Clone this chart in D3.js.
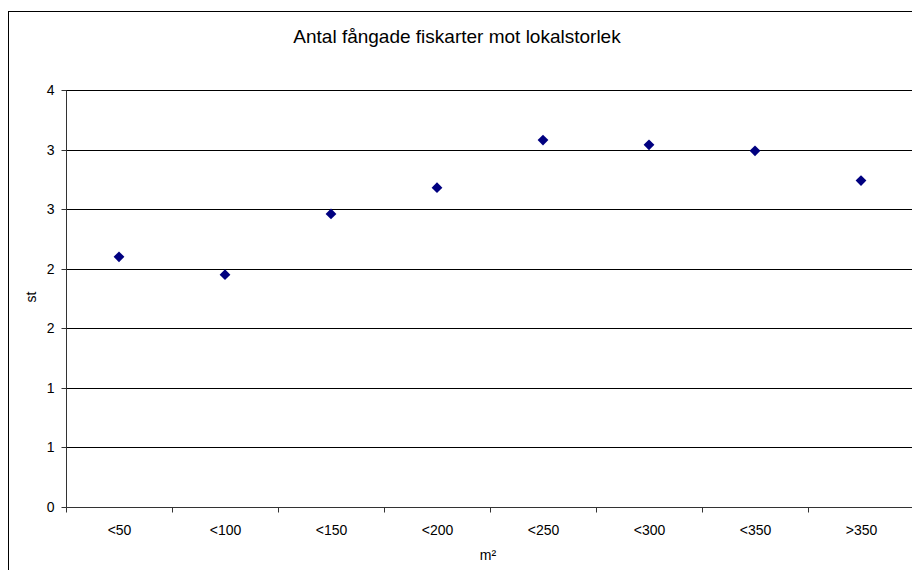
<!DOCTYPE html>
<html>
<head>
<meta charset="utf-8">
<script src="https://cdn.jsdelivr.net/npm/d3@7"></script>
<style>
  body { margin: 0; background: #fff; }
  svg { display: block; font-family: "Liberation Sans", Arial, sans-serif; }
</style>
</head>
<body>
<svg id="chart" width="912" height="570"></svg>
<script>
const categories = ['<50', '<100', '<150', '<200', '<250', '<300', '<350', '>350']
const values = [2.10, 1.95, 2.46, 2.68, 3.08, 3.04, 2.99, 2.74]
const yTicks = [0, 0.5, 1, 1.5, 2, 2.5, 3, 3.5]
const yTickLabels = ['0', '1', '1', '2', '2', '3', '3', '4']

const svg = d3.select('#chart')
const plotLeft = 66, plotRight = 914, plotTop = 90, plotBottom = 507

// chart frame
svg.append('rect')
  .attr('x', 8.5).attr('y', 11.5)
  .attr('width', 920).attr('height', 580)
  .attr('fill', '#fff')
  .attr('stroke', '#000')
  .attr('stroke-width', 1)

svg.append('text')
  .attr('x', 457).attr('y', 43)
  .attr('text-anchor', 'middle')
  .attr('font-size', 19)
  .text('Antal fångade fiskarter mot lokalstorlek')

let x = d3.scaleBand().domain(categories).range([plotLeft, plotRight])
let y = d3.scaleLinear().domain([0, 3.5]).range([plotBottom, plotTop])

// gridlines
svg.append('g').selectAll('line').data(yTicks.slice(1))
  .enter().append('line')
  .attr('x1', plotLeft).attr('x2', plotRight)
  .attr('y1', d => Math.round(y(d)) + 0.5)
  .attr('y2', d => Math.round(y(d)) + 0.5)
  .attr('stroke', '#000')

// y axis
let yAxis = svg.append('g').attr('transform', `translate(${plotLeft + 0.5},0.5)`)
yAxis.append('line').attr('y1', Math.round(plotTop)).attr('y2', plotBottom).attr('stroke', '#333')
yAxis.selectAll('g').data(yTicks).enter().append('g')
  .attr('transform', d => `translate(0,${Math.round(y(d))})`)
  .each(function (d, i) {
    let g = d3.select(this)
    g.append('line').attr('x1', -5).attr('x2', 0).attr('stroke', '#333')
    g.append('text')
      .attr('x', -12).attr('dy', '0.35em')
      .attr('text-anchor', 'end')
      .attr('font-size', 14)
      .text(yTickLabels[i])
  })

// x axis
let xAxis = svg.append('g').attr('transform', `translate(0.5,${plotBottom + 0.5})`)
xAxis.append('line').attr('x1', plotLeft).attr('x2', plotRight).attr('stroke', '#333')
xAxis.selectAll('line.tick').data(categories.concat(['end']))
  .enter().append('line')
  .attr('class', 'tick')
  .attr('x1', (d, i) => Math.round(plotLeft + i * x.bandwidth()))
  .attr('x2', (d, i) => Math.round(plotLeft + i * x.bandwidth()))
  .attr('y1', 0).attr('y2', 5)
  .attr('stroke', '#333')
xAxis.selectAll('text').data(categories)
  .enter().append('text')
  .attr('x', d => x(d) + x.bandwidth() / 2)
  .attr('y', 27)
  .attr('text-anchor', 'middle')
  .attr('font-size', 14)
  .text(d => d)

// axis titles
svg.append('text')
  .attr('transform', 'translate(36,297) rotate(-90)')
  .attr('text-anchor', 'middle')
  .attr('font-size', 14)
  .text('st')
svg.append('text')
  .attr('x', 488).attr('y', 560)
  .attr('text-anchor', 'middle')
  .attr('font-size', 14)
  .text('m²')

// markers
svg.append('g').selectAll('path').data(values)
  .enter().append('path')
  .attr('d', d3.symbol().type(d3.symbolSquare).size(58))
  .attr('transform', (d, i) => `translate(${x(categories[i]) + x.bandwidth() / 2},${y(d)}) rotate(45)`)
  .attr('fill', '#000080')
</script>
</body>
</html>
